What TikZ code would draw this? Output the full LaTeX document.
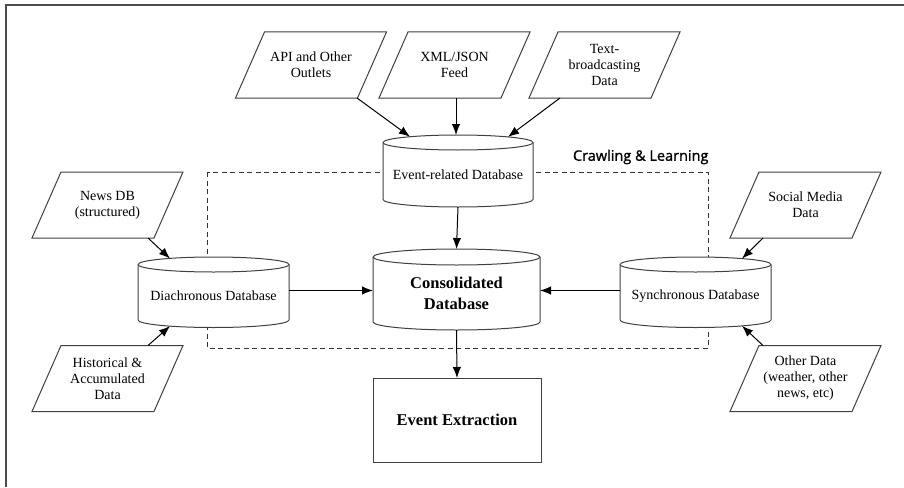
\documentclass[tikz,border=0pt]{standalone}
\usepackage{fontspec}
\setmainfont{Liberation Serif}
\newfontfamily\headfont[FakeBold=1.2]{Open Sans}
\usetikzlibrary{arrows.meta,calc}

\pgfdeclarelayer{back}
\pgfdeclarelayer{mid}
\pgfsetlayers{back,mid,main}

% vertical database cylinder around node #1 (x radius #2, y radius #3);
% the node box spans from the centre line of the top ellipse down to the base
\newcommand\dbcyl[3]{%
  \begin{pgfonlayer}{mid}
    \draw[line width=1pt,draw=black!75,fill=white]
      (#1.north west) -- ($(#1.south west)+(0,#3)$)
      arc[start angle=180,end angle=360,x radius=#2,y radius=#3]
      -- (#1.north east)
      arc[start angle=0,end angle=180,x radius=#2,y radius=#3] -- cycle;
    \draw[line width=1pt,draw=black!75]
      (#1.north west) arc[start angle=180,end angle=360,x radius=#2,y radius=#3];
  \end{pgfonlayer}}

% right-leaning parallelogram around node #1, its sides offset by #2 at top and base
\newcommand\paracyl[2]{%
  \begin{pgfonlayer}{mid}
    \draw[line width=1pt,draw=black!75,fill=white]
      ($(#1.south west)+(-#2,0)$) -- ($(#1.north west)+(#2,0)$)
      -- ($(#1.north east)+(#2,0)$) -- ($(#1.south east)+(-#2,0)$) -- cycle;
  \end{pgfonlayer}}

\begin{document}
\begin{tikzpicture}[x=1pt,y=1pt,
  every node/.style={inner sep=0pt,outer sep=0pt},
  para/.style={minimum width=122pt,minimum height=66pt,align=center,
    font=\fontsize{14}{16}\selectfont},
  dbbox/.style={minimum width=151pt,minimum height=63pt,align=center,
    font=\fontsize{14}{16}\selectfont},
  boldtxt/.style={font=\fontsize{16.5}{21}\bfseries\selectfont,align=center},
  arr/.style={line width=1pt,-{Latex[length=11pt,width=8.5pt]}},
]
\useasboundingbox (0,0) rectangle (904,-487);

% frame edges
\draw[line width=1.6pt,black!70] (904,-5) -- (6,-5) -- (6,-487);

% input sources
\node[para] (api)  at (311,-65)    {API and Other\\Outlets};
\node[para] (xml)  at (454.5,-65)  {XML/JSON\\Feed};
\node[para] (txt)  at (604.5,-65)  {Text-\\broadcasting\\Data};
\node[para] (news) at (107.5,-205) {News DB\\(structured)};
\node[para] (hist) at (107.5,-378.5) {Historical \&\\Accumulated\\Data};
\node[para] (soc)  at (805.5,-205) {Social Media\\Data};
\node[para] (oth)  at (805.5,-378.5) {Other Data\\(weather, other\\news, etc)};
\foreach \n in {api,xml,txt,news,hist,soc,oth} {\paracyl{\n}{14.5}}

% databases
\node[dbbox,minimum width=150pt,minimum height=64.5pt] (ev) at (458,-174.75) {Event-related Database};
\node[dbbox] (dia) at (213.5,-296) {Diachronous Database};
\node[dbbox] (syn) at (695.5,-296) {Synchronous Database};
\node[dbbox,boldtxt,minimum width=167pt,minimum height=73pt] (cons) at (456.5,-293.5) {Consolidated\\Database};
\dbcyl{ev}{75}{7.5}
\dbcyl{dia}{75.5}{7.5}
\dbcyl{syn}{75.5}{7.5}
\dbcyl{cons}{83.5}{8}

% result
\node[draw=black!75,line width=1pt,minimum width=168pt,minimum height=84pt,boldtxt] (ee) at (457,-420) {Event Extraction};

% crawling region
\begin{pgfonlayer}{back}
  \draw[line width=0.9pt,black!80,dash pattern=on 5pt off 3.5pt]
    (207,-172) rectangle (708,-348);
\end{pgfonlayer}
\node[font=\headfont\fontsize{14.5}{17}\selectfont,anchor=west] (crawl) at (573,-157) {Crawling \& Learning};

% connectors
\draw[arr] ($(api.center)+(46,-33)$) -- ($(ev.north)+(-48,5.8)$);
\draw[arr] ($(xml.center)+(1.5,-33)$) -- ($(ev.north)+(-2,7.5)$);
\draw[arr] ($(txt.center)+(-44.5,-33)$) -- ($(ev.north)+(50,5.6)$);
\draw[arr] (ev.south) -- ($(cons.north)+(0,8)$);
\draw[arr] (cons.south) -- (ee.north);

\coordinate (hl) at (0,-290.5);
\draw[arr] (dia.east |- hl) -- (cons.west |- hl);
\draw[arr] (syn.west |- hl) -- (cons.east |- hl);

\draw[arr] ($(news.center)+(40.5,-33)$) -- ($(dia.north)+(-43.5,6)$);
\draw[arr] ($(hist.center)+(40.5,33)$) -- ($(dia.south)+(-43.5,1.4)$);
\draw[arr] ($(soc.center)+(-42.5,-33)$) -- ($(syn.north)+(46.5,5.9)$);
\draw[arr] ($(oth.center)+(-42.5,33)$) -- ($(syn.south)+(46.5,1.6)$);
\end{tikzpicture}
\end{document}
